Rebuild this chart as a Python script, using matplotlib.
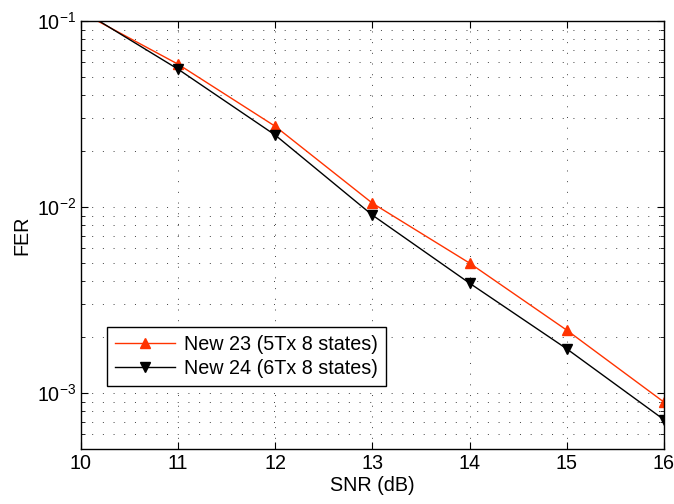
import numpy as np
import matplotlib
matplotlib.use("Agg")
import matplotlib.pyplot as plt
from matplotlib.ticker import LogLocator, NullLocator, NullFormatter

plt.rcParams['font.family'] = ['Liberation Sans', 'DejaVu Sans']
plt.rcParams['mathtext.fontset'] = 'custom'
plt.rcParams['mathtext.rm'] = 'Liberation Sans'

snr = [10, 11, 12, 13, 14, 15, 16]
fer_new23 = [0.112, 0.0587, 0.0272, 0.0105, 0.0050, 0.00218, 0.000895]
fer_new24 = [0.115, 0.0552, 0.0244, 0.00906, 0.0039, 0.00173, 0.00072]
labels = ['New 23 (5Tx 8 states)', 'New 24 (6Tx 8 states)']

fs = 14.2

fig = plt.figure(figsize=(6.74, 5.04), dpi=100)
ax = fig.add_axes([0.120, 0.109, 0.865, 0.849])

ax.semilogy(snr, fer_new23, color='#ff3300', lw=1.0, marker='^', ms=7, label=labels[0])
ax.semilogy(snr, fer_new24, color='black', lw=1.0, marker='v', ms=7, label=labels[1])

ax.set_xlim(10, 16)
ax.set_ylim(5e-4, 1e-1)
ax.set_xticks(snr)
ax.xaxis.set_minor_locator(NullLocator())
ax.yaxis.set_major_locator(LogLocator(base=10))
ax.yaxis.set_minor_locator(LogLocator(base=10, subs=np.arange(2, 10)))
ax.yaxis.set_minor_formatter(NullFormatter())

dots = (0, (1, 10))
ax.grid(True, which='major', axis='both', ls=dots, color='0.25', lw=0.7)
ax.grid(True, which='minor', axis='y', ls=dots, color='0.25', lw=0.7)

ax.tick_params(which='both', direction='in', top=True, right=True, labelsize=fs)
ax.tick_params(which='major', length=5)
ax.tick_params(which='minor', length=3)
for s in ax.spines.values():
    s.set_linewidth(1.0)

ax.set_xlabel('SNR (dB)', fontsize=fs, labelpad=2)
ax.set_ylabel('FER', fontsize=fs, labelpad=4)

leg = ax.legend(loc='lower left', bbox_to_anchor=(0.045, 0.147), borderaxespad=0,
                fancybox=False, framealpha=1, edgecolor='black', fontsize=fs,
                handlelength=3.05, handletextpad=0.45, borderpad=0.4, labelspacing=0.27)
leg.get_frame().set_linewidth(1.0)

fig.savefig('out.png', dpi=100)
